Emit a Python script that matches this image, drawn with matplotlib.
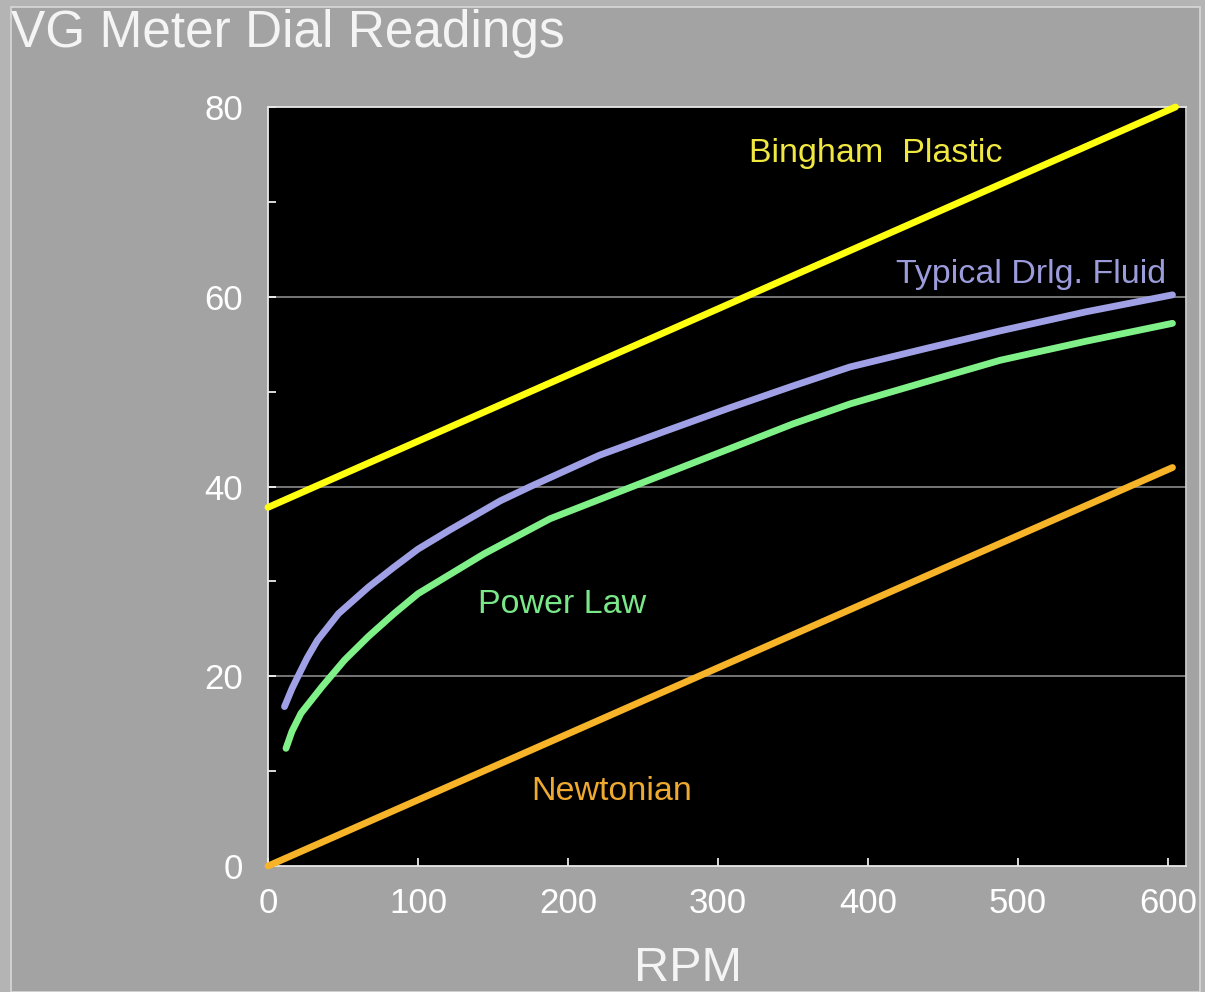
import matplotlib
matplotlib.use("Agg")
import matplotlib.pyplot as plt
from matplotlib.patches import Rectangle

plt.rcParams['font.family'] = ['Liberation Sans', 'DejaVu Sans']

# ---- data ----
newt_rpm = [0, 603]
newt_val = [0.0, 42.0]

bing_rpm = [0, 605]
bing_val = [37.8, 80.0]

drlg_rpm = [11, 16, 20, 26, 33, 47, 67, 84, 100, 121, 155, 175, 221, 266, 308, 350, 388, 440, 488, 545, 603]
drlg_val = [16.8, 18.7, 20.0, 21.9, 23.8, 26.6, 29.4, 31.5, 33.4, 35.4, 38.5, 40.0, 43.3, 45.9, 48.3, 50.6, 52.6, 54.6, 56.4, 58.4, 60.2]

pl_rpm = [12, 16, 22, 36, 51, 67, 84, 100, 144, 188, 248, 308, 350, 388, 440, 488, 545, 603]
pl_val = [12.4, 14.2, 16.1, 18.9, 21.7, 24.2, 26.6, 28.7, 32.9, 36.6, 40.3, 44.0, 46.6, 48.7, 51.1, 53.3, 55.3, 57.2]

x_ticks = [0, 100, 200, 300, 400, 500, 600]
y_ticks = [0, 20, 40, 60, 80]
y_minor = [10, 30, 50, 70]

title = "VG Meter Dial Readings"
xlabel = "RPM"

# ---- figure ----
W, H = 1205, 992
fig = plt.figure(figsize=(W / 100, H / 100), dpi=100)
fig.patch.set_facecolor('#b4b4b4')
frame = Rectangle((11 / W, 0), (1200 - 11) / W, (H - 7) / H,
                  transform=fig.transFigure, facecolor='#a3a3a3',
                  edgecolor='#d8d8d8', linewidth=1.2, zorder=-10)
fig.add_artist(frame)

ax = fig.add_axes([268 / W, (H - 866) / H, (1186 - 268) / W, (866 - 107) / H])
ax.set_zorder(1)
ax.set_facecolor('black')
ax.set_xlim(0, 612)
ax.set_ylim(0, 80)

for s in ax.spines.values():
    s.set_color('#e8e8e8')
    s.set_linewidth(1.3)
ax.spines['right'].set_color('#c8c8c8')

ax.set_xticks(x_ticks)
ax.set_yticks(y_ticks)
ax.set_yticks(y_minor, minor=True)
ax.tick_params(axis='both', which='both', direction='in', color='white',
               labelcolor='white', labelsize=25, length=6, width=1.2)
ax.tick_params(axis='y', which='major', pad=18)
ax.tick_params(axis='x', which='major', pad=15)
ax.tick_params(axis='x', which='minor', length=0)

for gy in [20, 40, 60]:
    ax.axhline(gy, color='#8a8a8a', linewidth=1.2, zorder=1)

lw = 4.9
ax.plot(bing_rpm, bing_val, color='#ffff10', lw=lw, solid_capstyle='round', zorder=3, clip_on=False)
ax.plot(newt_rpm, newt_val, color='#f8b428', lw=lw, solid_capstyle='round', zorder=3, clip_on=False)
ax.plot(drlg_rpm, drlg_val, color='#a0a0e6', lw=lw, solid_capstyle='round',
        solid_joinstyle='round', zorder=3)
ax.plot(pl_rpm, pl_val, color='#80f088', lw=lw, solid_capstyle='round',
        solid_joinstyle='round', zorder=3)

fs = 24.5
ax.text(405, 75.1, "Bingham  Plastic", color='#f0e840', fontsize=fs, ha='center', va='center')
ax.text(599, 62.3, "Typical Drlg. Fluid", color='#9c9cdc', fontsize=fs, ha='right', va='center')
ax.text(196, 27.6, "Power Law", color='#78e888', fontsize=fs, ha='center', va='center')
ax.text(229, 7.8, "Newtonian", color='#eeaa30', fontsize=fs, ha='center', va='center')

fig.text(11 / W, 1 - 47 / H, title, color='#f4f4f4', fontsize=37, ha='left', va='baseline')
fig.text(688 / W, 1 / H, xlabel, color='#f4f4f4', fontsize=35, ha='center', va='bottom')

fig.savefig('out.png', dpi=100, facecolor=fig.get_facecolor())
